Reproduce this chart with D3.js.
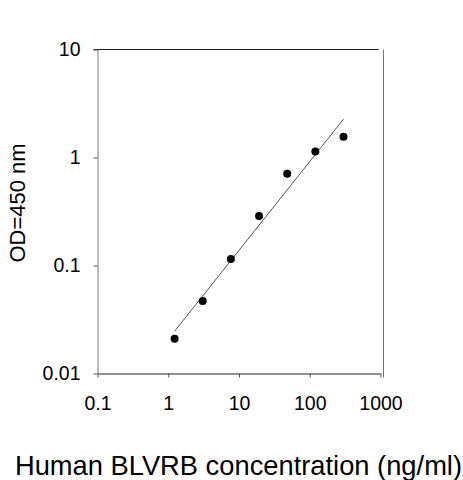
<!DOCTYPE html>
<html>
<head>
<meta charset="utf-8">
<script src="https://cdn.jsdelivr.net/npm/d3@7"></script>
<style>
  body { margin: 0; background: #fff; }
  svg { display: block; font-family: "Liberation Sans", Arial, sans-serif; }
</style>
</head>
<body>
<div id="chart"></div>
<script>
const width = 463;
const height = 480;

// standard curve: concentration (ng/ml) vs OD at 450 nm
const concentration = [1.23, 3.07, 7.68, 19.2, 48, 120, 300];
const od = [0.021, 0.047, 0.115, 0.288, 0.707, 1.137, 1.555];

const xTicks = [0.1, 1, 10, 100, 1000];
const yTicks = [0.01, 0.1, 1, 10];

const xLabel = "Human BLVRB concentration (ng/ml)";
const yLabel = "OD=450 nm";

const svg = d3.select("#chart")
    .append("svg")
    .attr("width", width)
    .attr("height", height);

const x = d3.scaleLog()
    .domain([0.1, 1000])
    .range([97.5, 380.5]);

const y = d3.scaleLog()
    .domain([0.01, 10])
    .range([373.5, 49.5]);

// frame lines (top and right)
svg.append("line")
    .attr("x1", x(0.1) - 4).attr("x2", x(1000) - 2)
    .attr("y1", y(10)).attr("y2", y(10))
    .attr("stroke", "#222");
svg.append("line")
    .attr("x1", x(1000) + 3).attr("x2", x(1000) + 3)
    .attr("y1", y(10)).attr("y2", y(0.01) + 4)
    .attr("stroke", "#777");

// axes
const xAxis = svg.append("g")
    .attr("transform", `translate(0,${y(0.01)})`)
    .call(d3.axisBottom(x)
        .tickValues(xTicks)
        .tickFormat(d => d3.format("~g")(d))
        .tickSize(4)
        .tickSizeOuter(0)
        .tickPadding(19));

const yAxis = svg.append("g")
    .attr("transform", `translate(${x(0.1)},0)`)
    .call(d3.axisLeft(y)
        .tickValues(yTicks)
        .tickFormat(d => d3.format("~g")(d))
        .tickSize(4)
        .tickSizeOuter(0)
        .tickPadding(13));

xAxis.select(".domain").attr("stroke", "#222");
yAxis.select(".domain").attr("stroke", "#777");
svg.selectAll(".tick line").attr("stroke", "#555");
svg.selectAll(".tick text")
    .attr("fill", "#000")
    .style("font-size", "19.5px")
    .style("font-family", "'Liberation Sans', Arial, sans-serif");

// least-squares fit in log-log space
const lx = concentration.map(Math.log10);
const ly = od.map(Math.log10);
const mx = d3.mean(lx);
const my = d3.mean(ly);
const slope = d3.sum(lx, (v, i) => (v - mx) * (ly[i] - my)) / d3.sum(lx, v => (v - mx) ** 2);
const intercept = my - slope * mx;
const fitX = d3.extent(concentration);
const fit = fitX.map(c => [c, Math.pow(10, intercept + slope * Math.log10(c))]);

svg.append("path")
    .datum(fit)
    .attr("d", d3.line().x(d => x(d[0])).y(d => y(d[1])))
    .attr("fill", "none")
    .attr("stroke", "#555")
    .attr("stroke-width", 1);

svg.selectAll("circle")
    .data(concentration)
    .enter()
    .append("circle")
    .attr("cx", d => x(d))
    .attr("cy", (d, i) => y(od[i]))
    .attr("r", 4)
    .attr("fill", "#000");

// axis titles
svg.append("text")
    .attr("x", 238.5)
    .attr("y", 475)
    .attr("text-anchor", "middle")
    .style("font-size", "27.3px")
    .text(xLabel);

svg.append("text")
    .attr("transform", "translate(25,203) rotate(-90)")
    .attr("text-anchor", "middle")
    .style("font-size", "22px")
    .text(yLabel);
</script>
</body>
</html>
